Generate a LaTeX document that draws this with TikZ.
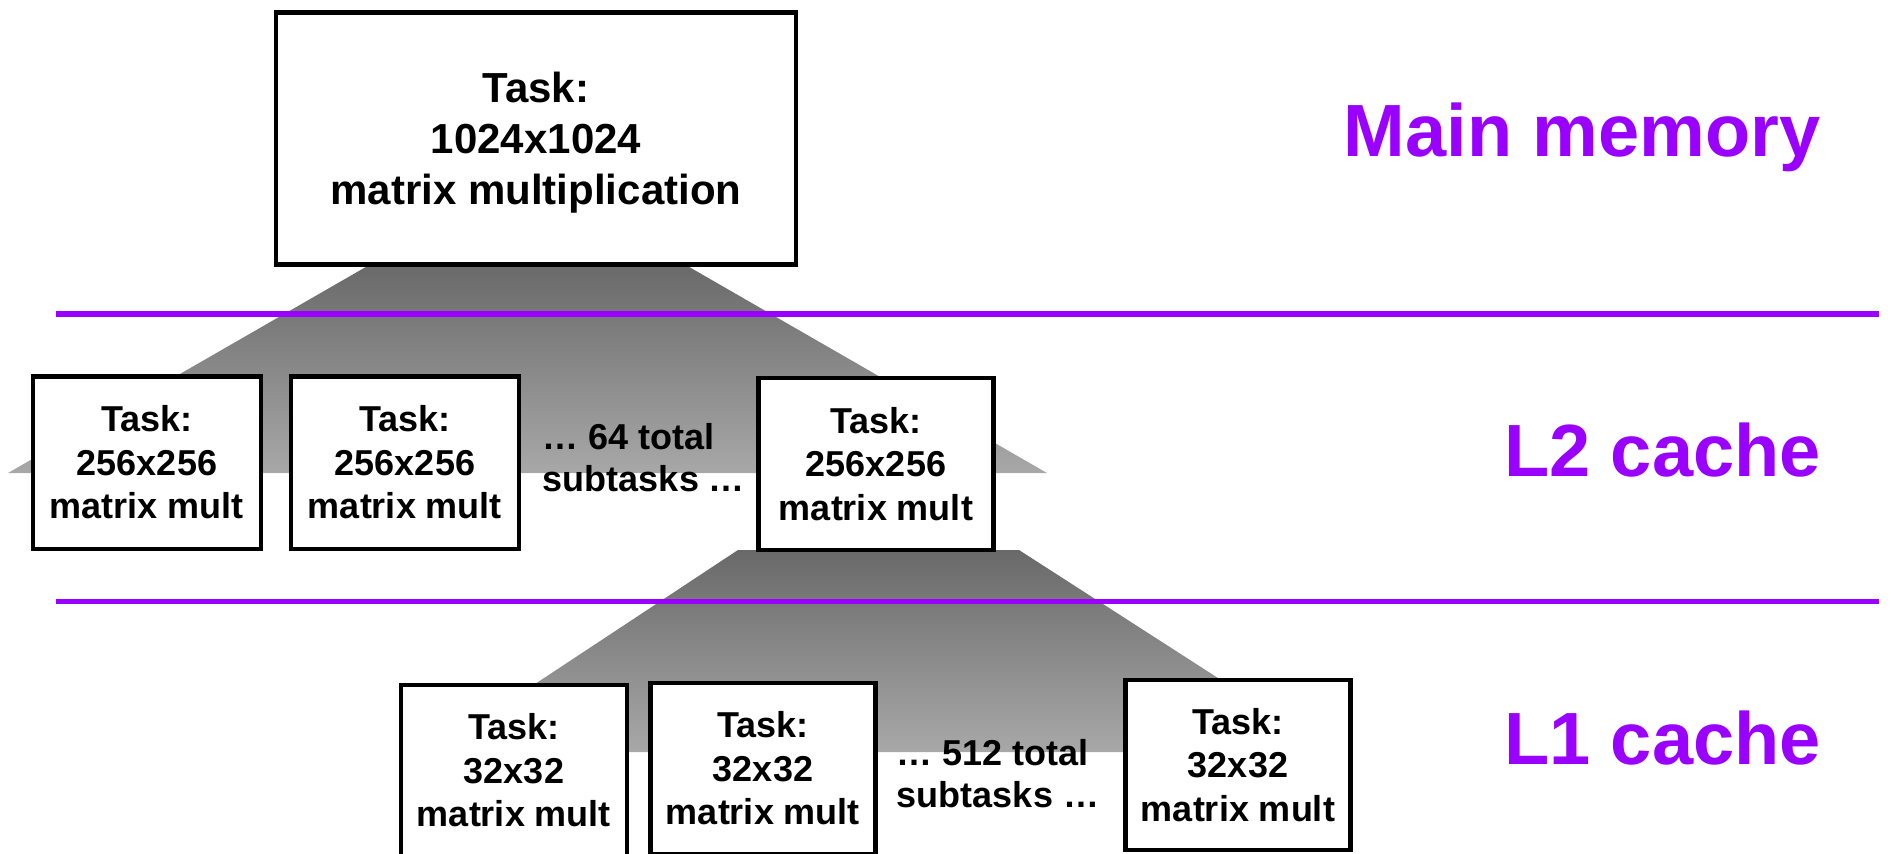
\documentclass[tikz,border=0pt]{standalone}
\usepackage{fontspec}
\setmainfont{Liberation Sans}
\definecolor{levelpurple}{RGB}{153,0,255}
\definecolor{shadetop}{RGB}{105,105,105}
\definecolor{shadebot}{RGB}{168,168,168}
\begin{document}
\begin{tikzpicture}[x=1pt,y=-1pt,
  taskbox/.style={draw=black, line width=4.5pt, fill=white, inner sep=0pt,
    align=center, font=\fontsize{36}{43.5}\selectfont\bfseries},
  bigtext/.style={inner sep=0pt, align=center, font=\fontsize{42}{51}\selectfont\bfseries},
  countnote/.style={inner sep=0pt, align=left, font=\fontsize{36}{42}\selectfont\bfseries},
  levellabel/.style={anchor=base east, inner sep=0pt, text=levelpurple,
    font=\fontsize{74}{88}\selectfont\bfseries},
  levelline/.style={draw=levelpurple, line width=5.5pt},
  spread/.style={top color=shadetop, bottom color=shadebot, draw=none}]
\useasboundingbox (0,0) rectangle (1891,854);
\clip (0,0) rectangle (1891,854);

% fan-out shading from a task to its subtasks
\path[spread] (371,264) -- (684,264) -- (1047,473) -- (8,473) -- cycle;
\path[spread] (738,550) -- (1019,550) -- (1333,752) -- (432,752) -- cycle;

% memory level boundaries
\coordinate (b1w) at (56,314);
\coordinate (b1e) at (1879,314);
\coordinate (b2w) at (56,601.5);
\coordinate (b2e) at (1879,601.5);
\draw[levelline] (b1w) -- (b1e);
\draw[levelline] (b2w) -- (b2e);

% main memory task
\node[taskbox, minimum width=520pt, minimum height=252pt] (top) at (536,138.5) {};
\node[bigtext] (toptext) at (536,142.5)
  {Task:\\1024x1024\\matrix multiplication};

% L2 tasks
\node[taskbox, minimum width=228pt, minimum height=172.5pt] (l2a) at (147,462.5)
  {Task:\\256x256\\matrix mult};
\node[taskbox, minimum width=228pt, minimum height=172.5pt] (l2b) at (405,462.5)
  {Task:\\256x256\\matrix mult};
\node[countnote] (l2n) at (644,458) {… 64 total\\subtasks …};
\node[taskbox, minimum width=235pt, minimum height=172pt] (l2c) at (876,464)
  {Task:\\256x256\\matrix mult};

% L1 tasks
\node[taskbox, minimum width=226pt, minimum height=171pt] (l1a) at (514,770.5)
  {Task:\\32x32\\matrix mult};
\node[taskbox, minimum width=225pt, minimum height=171pt] (l1b) at (763,768.5)
  {Task:\\32x32\\matrix mult};
\node[countnote] (l1n) at (998,773.5) {… 512 total\\subtasks …};
\node[taskbox, minimum width=225pt, minimum height=170pt] (l1c) at (1238,765)
  {Task:\\32x32\\matrix mult};

% level names
\node[levellabel] (mainmem) at (1821,156.4) {Main memory};
\node[levellabel] (l2lab) at (1821,476.9) {L2 cache};
\node[levellabel] (l1lab) at (1821,764.8) {L1 cache};
\end{tikzpicture}
\end{document}
